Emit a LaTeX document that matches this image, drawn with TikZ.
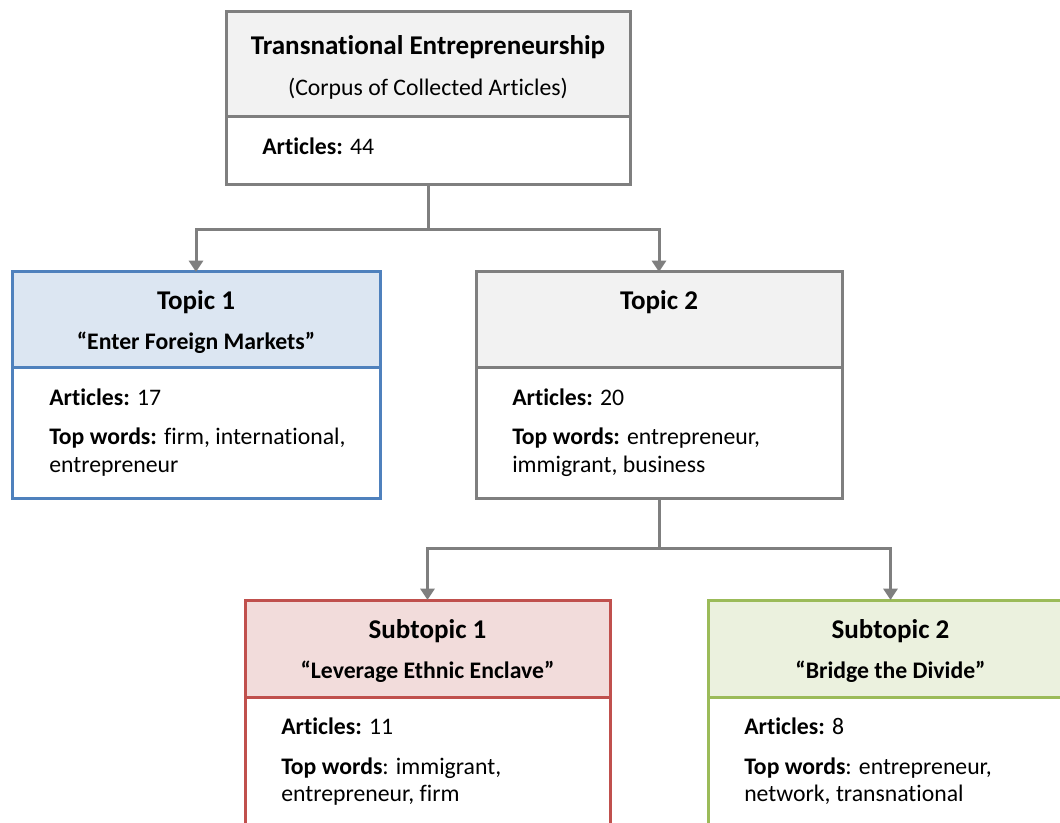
\documentclass[tikz,border=0pt]{standalone}
\usepackage{fontspec}
\setmainfont{Carlito}[Ligatures={NoCommon}]
\usetikzlibrary{arrows.meta}
\definecolor{bord}{HTML}{7F7F7F}
\definecolor{hdrgray}{HTML}{F2F2F2}
\definecolor{blueb}{HTML}{4F81BD}
\definecolor{bluef}{HTML}{DCE6F2}
\definecolor{redb}{HTML}{C0504D}
\definecolor{redf}{HTML}{F2DCDB}
\definecolor{greenb}{HTML}{9BBB59}
\definecolor{greenf}{HTML}{EBF1DE}
\begin{document}
\begin{tikzpicture}[x=0.75pt,y=-0.75pt,
  box/.style={draw=#1, line width=2.25pt, anchor=north west, inner sep=0pt, outer sep=0pt},
  ttl/.style={anchor=base, inner sep=0pt, font=\fontsize{20.3}{24}\selectfont\bfseries},
  sub/.style={anchor=base, inner sep=0pt, font=\fontsize{17.8}{21}\selectfont},
  subb/.style={anchor=base, inner sep=0pt, font=\fontsize{17.8}{21}\selectfont\bfseries},
  txt/.style={anchor=base west, inner sep=0pt, font=\fontsize{17.8}{21}\selectfont},
  conn/.style={draw=bord, line width=2.25pt},
  arr/.style={conn, -{Triangle[width=10.5pt,length=8.5pt]}}]
\useasboundingbox (0,0) rectangle (1060,823);
\clip (0,0) rectangle (1060,823);
% top box
\node[box=bord, fill=white, minimum width=303pt, minimum height=51pt] (top) at (226,117) {};
\node[box=bord, fill=hdrgray, minimum width=303pt, minimum height=78.75pt] (toph) at (226,12) {};
\node[ttl] (toptitle) at (428,55) {Transnational Entrepreneurship};
\node[sub] (topsub) at (428,96) {(Corpus of Collected Articles)};
\node[txt] (toptxt) at (262,155) {\textbf{Articles:} 44};
% topic 1
\node[box=blueb, fill=white, minimum width=276pt, minimum height=97.5pt] (t1b) at (12,368) {};
\node[box=blueb, fill=bluef, minimum width=276pt, minimum height=72pt] (t1h) at (12,272) {};
\node[ttl] (t1title) at (196,310) {Topic 1};
\node[subb] (t1sub) at (196,350) {“Enter Foreign Markets”};
\node[txt] (t1a) at (49,406) {\textbf{Articles:} 17};
\node[txt] (t1w) at (49,444) {\textbf{Top words:} firm, international,};
\node[txt] (t1w2) at (49,472) {entrepreneur};
% topic 2
\node[box=bord, fill=white, minimum width=274.5pt, minimum height=97.5pt] (t2b) at (476,368) {};
\node[box=bord, fill=hdrgray, minimum width=274.5pt, minimum height=72pt] (t2h) at (476,272) {};
\node[ttl] (t2title) at (659,310) {Topic 2};
\node[txt] (t2a) at (512,406) {\textbf{Articles:} 20};
\node[txt] (t2w) at (512,444) {\textbf{Top words:} entrepreneur,};
\node[txt] (t2w2) at (512,472) {immigrant, business};
% subtopic 1
\node[box=redb, fill=white, minimum width=273.75pt, minimum height=112.5pt] (s1b) at (245,697) {};
\node[box=redb, fill=redf, minimum width=273.75pt, minimum height=72.75pt] (s1h) at (245,600) {};
\node[ttl] (s1title) at (427.5,638) {Subtopic 1};
\node[subb] (s1sub) at (427.5,678) {“Leverage Ethnic Enclave”};
\node[txt] (s1a) at (281,734) {\textbf{Articles:} 11};
\node[txt] (s1w) at (281,774) {\textbf{Top words}: immigrant,};
\node[txt] (s1w2) at (281,801) {entrepreneur, firm};
% subtopic 2
\node[box=greenb, fill=white, minimum width=273.75pt, minimum height=112.5pt] (s2b) at (708,697) {};
\node[box=greenb, fill=greenf, minimum width=273.75pt, minimum height=72.75pt] (s2h) at (708,600) {};
\node[ttl] (s2title) at (890.5,638) {Subtopic 2};
\node[subb] (s2sub) at (890.5,678) {“Bridge the Divide”};
\node[txt] (s2a) at (744,734) {\textbf{Articles:} 8};
\node[txt] (s2w) at (744,774) {\textbf{Top words}: entrepreneur,};
\node[txt] (s2w2) at (744,801) {network, transnational};
% connectors
\coordinate (j1) at (428,230);
\coordinate (j2) at (659,548);
\draw[conn] (top.south) -- (top.south |- j1);
\draw[arr] (j1) -| (t1h.north);
\draw[arr] (j1) -| (t2h.north);
\draw[conn] (t2b.south) -- (t2b.south |- j2);
\draw[arr] (j2) -| (s1h.north);
\draw[arr] (j2) -| (s2h.north);
\end{tikzpicture}
\end{document}
